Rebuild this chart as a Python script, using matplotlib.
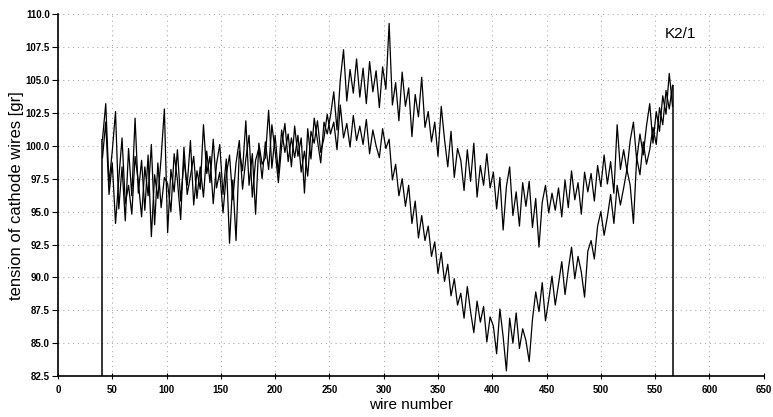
import numpy as np
import matplotlib
matplotlib.use("Agg")
import matplotlib.pyplot as plt

plt.rcParams['font.family'] = ['Liberation Sans', 'DejaVu Sans']

# wire numbers (every 3rd wire)
wires = np.arange(41, 567, 3)

# upper trace
tension_a = [
    100.5, 103.2, 97.1, 99.6, 102.6, 95.2, 98.4, 94.3, 99.8, 96.2,
    102.1, 96.4, 98.9, 95.1, 99.3, 93.1, 97.8, 96.0, 99.1, 102.8,
    93.4, 98.2, 96.5, 99.7, 95.8, 98.9, 97.0, 100.4, 95.5, 98.1,
    96.7, 101.6, 97.9, 99.2, 95.6, 98.6, 100.1, 96.3, 99.0, 92.6,
    97.4, 92.8, 99.6, 98.1, 101.9, 97.0, 99.4, 94.8, 100.2, 98.6,
    99.1, 102.7, 98.3, 100.8, 97.9, 101.2, 99.5, 100.9, 98.4, 101.5,
    99.2, 100.6, 96.4, 101.3, 99.0, 102.1, 100.4, 98.7, 101.8, 100.9,
    102.3, 104.1, 101.2, 105.0, 107.3, 103.4, 105.8, 104.0, 106.6, 103.7,
    105.9, 103.2, 106.4, 104.1, 105.7, 102.9, 106.0, 104.3, 109.3, 103.1,
    104.8, 101.9, 105.6, 103.0, 104.4, 100.7, 103.9, 102.2, 105.2, 101.4,
    102.6, 100.3, 101.8, 99.2, 103.0, 100.5, 98.4, 101.1, 97.6, 99.8,
    98.9, 96.6, 99.7, 97.3, 100.2, 96.1, 98.5, 97.0, 99.4, 96.8,
    98.0, 95.2, 97.6, 93.6, 96.9, 98.4, 94.7, 96.5, 93.9, 97.2,
    95.4, 97.3, 93.8, 96.0, 92.3, 95.7, 97.0, 94.9, 96.4, 95.1,
    96.8, 94.6, 97.4, 95.3, 98.1, 95.9, 97.2, 94.8, 98.0, 96.5,
    97.9, 95.8, 98.5, 96.9, 99.3, 97.1, 98.8, 96.4, 101.6, 98.2,
    99.7, 98.1, 100.4, 101.8, 98.9, 100.9, 99.3, 101.5, 103.2, 100.2,
    102.6, 101.1, 103.8, 102.4, 105.5, 103.0,
]

# lower trace
tension_b = [
    99.1, 101.8, 96.3, 98.7, 94.1, 97.5, 100.6, 95.6, 97.0, 94.8,
    99.2, 97.3, 94.6, 98.4, 96.2, 100.1, 94.0, 98.7, 95.3, 97.6,
    97.1, 95.0, 99.4, 97.4, 94.4, 99.9, 96.3, 97.7, 99.2, 96.0,
    98.4, 96.1, 99.6, 97.2, 100.5, 96.8, 98.0, 94.9, 97.8, 99.3,
    95.9, 98.7, 100.4, 96.7, 99.0, 100.8, 96.1, 98.9, 99.8, 97.5,
    100.3, 98.2, 101.6, 99.6, 97.2, 100.0, 101.7, 98.8, 100.6, 99.1,
    100.8, 98.0, 99.6, 97.7, 101.1, 100.2, 101.9, 99.5, 100.6, 102.4,
    100.9, 101.8, 99.7, 103.1, 100.6, 101.7, 99.9, 102.3, 100.4, 101.5,
    100.1, 102.0, 99.4, 101.2, 100.0, 99.1, 101.3, 99.8, 100.5, 97.4,
    98.6, 96.2, 97.5, 95.4, 97.0, 94.1, 95.8, 93.0, 94.7, 92.8,
    93.9, 91.6, 92.7, 90.3, 91.9, 89.7, 91.0, 88.6, 89.9, 87.9,
    88.8, 86.9, 89.3, 87.4, 85.8, 88.2, 86.6, 87.8, 85.1, 87.0,
    86.3, 84.2, 87.6, 85.5, 82.9, 86.9, 85.0, 87.3, 84.6, 86.1,
    85.2, 83.6, 86.8, 88.9, 87.4, 89.6, 86.7, 88.3, 90.1, 87.9,
    89.5, 91.2, 88.7, 90.6, 92.3, 89.9, 91.6, 90.4, 88.5, 92.0,
    92.8, 91.4, 93.9, 95.0, 93.2, 94.6, 96.3, 94.1, 97.0, 95.5,
    96.8, 98.2, 97.0, 94.1, 99.1, 97.8, 100.3, 98.6, 99.7, 101.4,
    100.1, 102.9, 101.6, 104.2, 102.8, 104.6,
]

x_ticks = np.arange(0, 651, 50)
y_ticks = np.arange(82.5, 110.01, 2.5)
y_min, y_max = 82.5, 110.0

fig = plt.figure(figsize=(7.73, 4.17), dpi=100)
ax = fig.add_axes([0.075, 0.098, 0.913, 0.868])

# dotted grid like the scan
ax.set_xticks(x_ticks)
ax.set_yticks(y_ticks)
ax.grid(True, color='0.6', linestyle=(0, (1, 4)), linewidth=0.7)
ax.set_axisbelow(True)

ax.plot(wires, tension_a, color='black', linewidth=0.9)
ax.plot(wires, tension_b, color='black', linewidth=0.9)

# the measurement program drew the ends down to the baseline
ax.vlines([wires[0], wires[-1]], y_min,
          [max(tension_a[0], tension_b[0]), max(tension_a[-1], tension_b[-1])],
          color='black', linewidth=1.1)

ax.set_xlim(0, 650)
ax.set_ylim(y_min, y_max)
ax.set_yticklabels([f"{v:.1f}" for v in y_ticks])

for side in ['top', 'right']:
    ax.spines[side].set_visible(False)
ax.spines['left'].set_linewidth(1.2)
ax.spines['bottom'].set_linewidth(1.2)
ax.tick_params(axis='y', direction='out', length=4, labelsize=7, pad=2)
ax.tick_params(axis='x', direction='inout', length=5, labelsize=7, pad=4)
for lbl in ax.get_xticklabels() + ax.get_yticklabels():
    lbl.set_fontweight('bold')

ax.set_xlabel('wire number', fontsize=11, labelpad=2)
ax.set_ylabel('tension of cathode wires [gr]', fontsize=12, labelpad=1)

ax.text(573, 108.5, 'K2/1', fontsize=11, ha='center', va='center')

fig.savefig('out.png', dpi=100)
